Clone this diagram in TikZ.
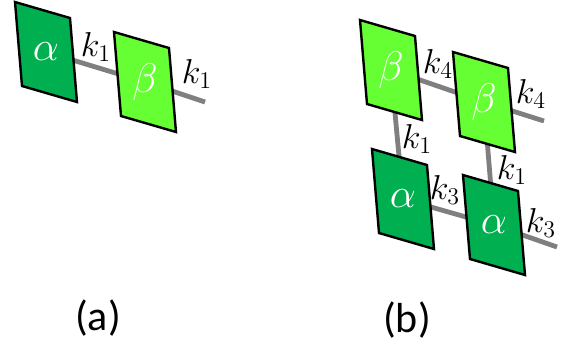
\documentclass[tikz,border=0pt]{standalone}
\usepackage{fontspec}
\newfontfamily\capfont{Carlito}
\definecolor{alphagreen}{HTML}{00B050}
\definecolor{betagreen}{HTML}{66FF33}
\definecolor{bondgray}{HTML}{7F7F7F}

\begin{document}
\begin{tikzpicture}[x=0.5pt,y=-0.5pt,line width=1.2pt,
  bond/.style={draw=bondgray,line width=2.4pt},
  sym/.style={text=white,font=\fontsize{22}{24}\selectfont},
  lab/.style={font=\fontsize{18}{20}\selectfont},
  captext/.style={font=\capfont\fontsize{21}{24}\selectfont}]
 \useasboundingbox (0,0) rectangle (568,344);
 \foreach \name/\x/\y in {aA/46/52,aB/145/82,bB1/391/70,bB2/484/102,bA1/403/199,bA2/494/225}{%
   \coordinate (\name) at (\x,\y);
 }
 \coordinate (aE) at (205,102);
 \coordinate (bE1) at (544,121);
 \coordinate (bE2) at (557,247);
 \draw[bond] (aA)--(aB)--(aE);
 \draw[bond] (bB1)--(bB2)--(bE1);
 \draw[bond] (bA1)--(bA2)--(bE2);
 \draw[bond] (bB1)--(bA1);
 \draw[bond] (bB2)--(bA2);
 \foreach \name/\col/\sym in {aA/alphagreen/\alpha,aB/betagreen/\beta,bB1/betagreen/\beta,bB2/betagreen/\beta,bA1/alphagreen/\alpha,bA2/alphagreen/\alpha}{%
   \filldraw[fill=\col,shift={(\name)}] (-31,-50)--++(55,16)--++(7,84)--++(-55,-16)--cycle;
   \node[sym] (\name-s) at (\name) {$\sym$};
 }
 \foreach \name/\x/\y/\t in {kaL/96/47/1,kaR/197/74/1,kbT/438/64/4,kbTR/531/94/4,kbV/417/139/1,kbVR/512/170/1,kbB/445/190/3,kbBR/541/223/3}{%
   \node[lab] (\name) at (\x,\y) {$k_{\t}$};
 }
 \node[captext] (capa) at (98,318) {(a)};
 \node[captext] (capb) at (407,320) {(b)};
\end{tikzpicture}
\end{document}
